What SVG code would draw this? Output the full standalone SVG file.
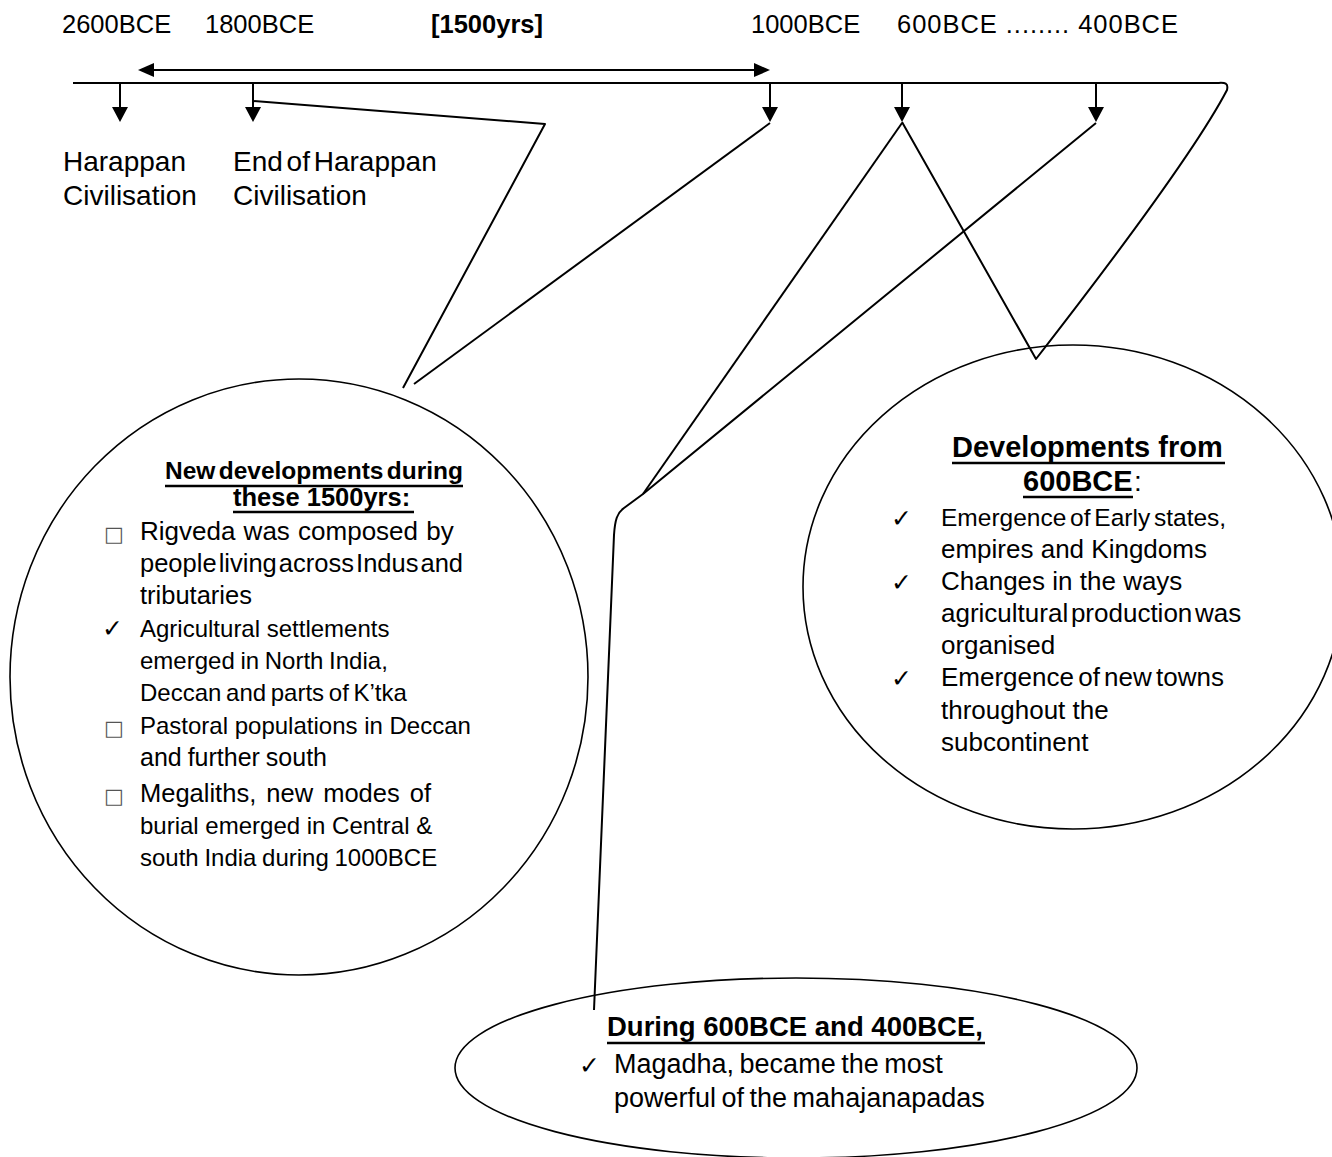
<svg xmlns="http://www.w3.org/2000/svg" width="1332" height="1157" viewBox="0 0 1332 1157">
  <style>
    text { font-family: "Liberation Sans", Arial, sans-serif; fill: #000; }
    .date { font-size: 25.5px; }
    .lbl { font-size: 28px; }
    .body { font-size: 24px; }
    .rbody { font-size: 26px; }
    .hd { font-weight: bold; }
    .chk { font-family: "DejaVu Sans", sans-serif; font-size: 25px; }
    .box { font-family: "DejaVu Sans", sans-serif; font-size: 21px; fill: #555; }
    .conn { fill: none; stroke: #000; stroke-width: 2; stroke-linejoin: round; }
    .bubble { fill: none; stroke: #000; stroke-width: 1.6; }
    .ul { stroke: #000; stroke-width: 2.4; }
  </style>
  <defs>
    <marker id="tick" markerUnits="userSpaceOnUse" markerWidth="16" markerHeight="17" refX="0" refY="8" orient="auto">
      <path d="M0,0 L15,8 L0,16 Z" fill="#000"/>
    </marker>
    <marker id="span" markerUnits="userSpaceOnUse" markerWidth="17" markerHeight="15" refX="0" refY="7" orient="auto-start-reverse">
      <path d="M0,0 L16,7 L0,14 Z" fill="#000"/>
    </marker>
  </defs>

  <!-- timeline labels -->
  <g id="date-2600"><text class="date" x="62" y="33">2600BCE</text></g>
  <g id="date-1800"><text class="date" x="205" y="33">1800BCE</text></g>
  <g id="span-1500"><text class="date hd" x="431" y="33">[1500yrs]</text></g>
  <g id="date-1000"><text class="date" x="751" y="33">1000BCE</text></g>
  <g id="date-600-400"><text class="date" x="897" y="33" textLength="281">600BCE ........ 400BCE</text></g>

  <g id="harappan">
    <text class="lbl" x="63" y="171">Harappan</text>
    <text class="lbl" x="63" y="205">Civilisation</text>
  </g>
  <g id="end-harappan">
    <text class="lbl" x="233" y="171" word-spacing="-4">End of Harappan</text>
    <text class="lbl" x="233" y="205">Civilisation</text>
  </g>

  <!-- connectors -->
  <g id="connectors">
    <line class="conn" x1="154" y1="70" x2="754" y2="70" stroke-width="2.5" marker-start="url(#span)" marker-end="url(#span)"/>
    <path class="conn" d="M73,83 H1215 C1223,83 1229,81 1227,90 Q1190,161 1036,359 L902,122"/>
    <line class="conn" x1="120" y1="83" x2="120" y2="107" marker-end="url(#tick)"/>
    <line class="conn" x1="253" y1="83" x2="253" y2="107" marker-end="url(#tick)"/>
    <line class="conn" x1="770" y1="83" x2="770" y2="107" marker-end="url(#tick)"/>
    <line class="conn" x1="902" y1="83" x2="902" y2="107" marker-end="url(#tick)"/>
    <line class="conn" x1="1096" y1="83" x2="1096" y2="107" marker-end="url(#tick)"/>
    <path class="conn" d="M253,101 L545,124 L403,388"/>
    <path class="conn" d="M770,123 L414,384"/>
    <path class="conn" d="M902,123 L643,494"/>
    <path class="conn" d="M1096,123 L643,494 L624,508 C617,513 615,520 614,535 L594,1010"/>
  </g>

  <!-- left bubble -->
  <g id="new-developments">
    <ellipse class="bubble" cx="299" cy="677" rx="289" ry="298"/>
    <text class="hd" x="165" y="479" font-size="24.5" word-spacing="-3.5">New developments during</text>
    <line class="ul" x1="165" y1="486" x2="463" y2="486"/>
    <text class="hd" x="233" y="506" font-size="25.5">these 1500yrs:</text>
    <line class="ul" x1="233" y1="512" x2="414" y2="512"/>
    <text class="box" x="104" y="541">□</text>
    <text x="140" y="540" font-size="26" word-spacing="1">Rigveda was composed by</text>
    <text x="140" y="572" font-size="25.5" word-spacing="-5">people living across Indus and</text>
    <text x="140" y="604" font-size="25.5">tributaries</text>
    <text class="chk" x="102" y="637">✓</text>
    <text class="body" x="140" y="637">Agricultural settlements</text>
    <text class="body" x="140" y="669" word-spacing="-1">emerged in North India,</text>
    <text class="body" x="140" y="701" word-spacing="-2">Deccan and parts of K’tka</text>
    <text class="box" x="104" y="735">□</text>
    <text class="body" x="140" y="734">Pastoral populations in Deccan</text>
    <text x="140" y="766" font-size="25" word-spacing="-1">and further south</text>
    <text class="box" x="104" y="803">□</text>
    <text x="140" y="802" font-size="25.5" word-spacing="3">Megaliths, new modes of</text>
    <text class="body" x="140" y="834">burial emerged in Central &amp;</text>
    <text class="body" x="140" y="866" word-spacing="-1">south India during 1000BCE</text>
  </g>

  <!-- right bubble -->
  <g id="developments-600">
    <ellipse class="bubble" cx="1073" cy="587" rx="270" ry="242"/>
    <text class="hd" x="952" y="457" font-size="29">Developments from</text>
    <line class="ul" x1="952" y1="463" x2="1225" y2="463"/>
    <text class="hd" x="1023" y="491" font-size="29">600BCE</text>
    <line class="ul" x1="1023" y1="497" x2="1133" y2="497"/>
    <text x="1134" y="491" font-size="28">:</text>
    <text class="chk" x="891" y="527">✓</text>
    <text x="941" y="526" font-size="24.5" word-spacing="-3">Emergence of Early states,</text>
    <text class="rbody" x="941" y="558">empires and Kingdoms</text>
    <text class="chk" x="891" y="591">✓</text>
    <text class="rbody" x="941" y="590">Changes in the ways</text>
    <text class="rbody" x="941" y="622" word-spacing="-4.5">agricultural production was</text>
    <text class="rbody" x="941" y="654">organised</text>
    <text class="chk" x="891" y="687">✓</text>
    <text class="rbody" x="941" y="686" word-spacing="-3">Emergence of new towns</text>
    <text class="rbody" x="941" y="719">throughout the</text>
    <text class="rbody" x="941" y="751">subcontinent</text>
  </g>

  <!-- bottom bubble -->
  <g id="during-600-400">
    <ellipse class="bubble" cx="796" cy="1068" rx="341" ry="90"/>
    <text class="hd" x="607" y="1036" font-size="27.5">During 600BCE and 400BCE,</text>
    <line class="ul" x1="607" y1="1043" x2="985" y2="1043"/>
    <text class="chk" x="579" y="1074">✓</text>
    <text x="614" y="1073" font-size="27" word-spacing="-2">Magadha, became the most</text>
    <text x="614" y="1107" font-size="27" word-spacing="-2">powerful of the mahajanapadas</text>
  </g>
</svg>
